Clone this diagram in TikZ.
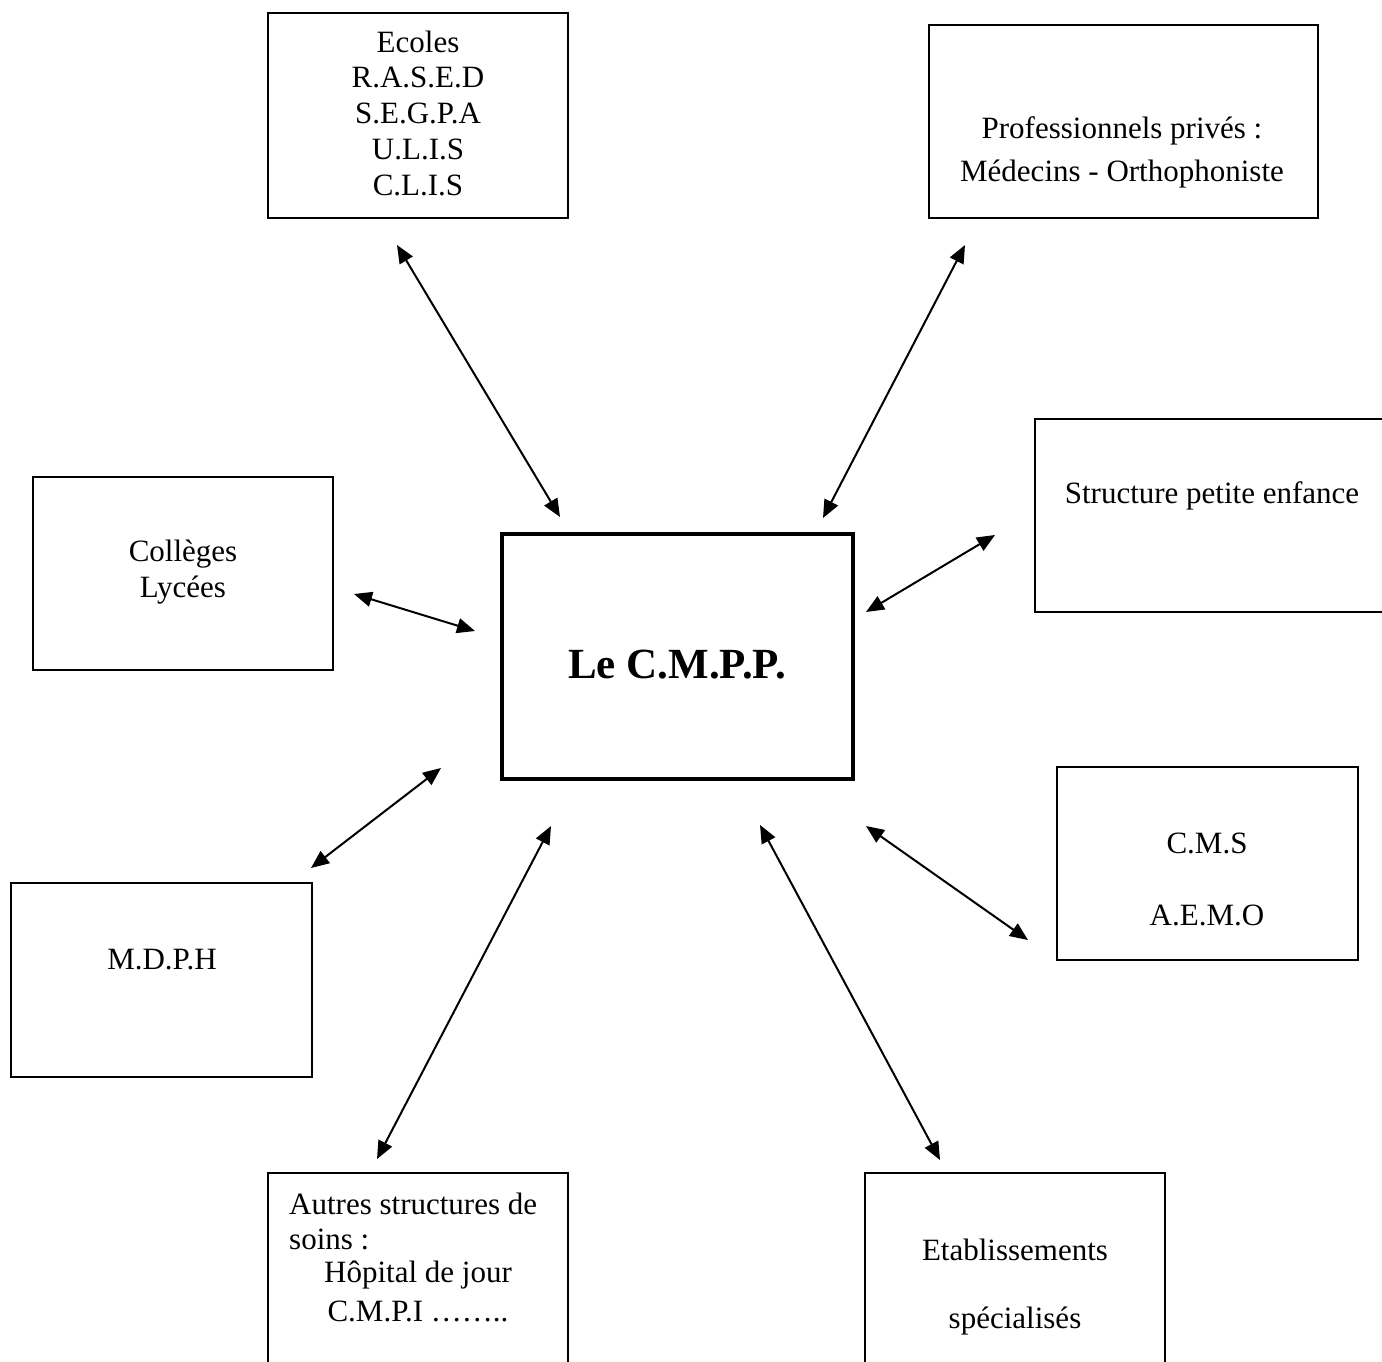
\documentclass[tikz,border=0pt]{standalone}
\usepackage{fontspec}
\setmainfont{Liberation Serif}
\usetikzlibrary{arrows.meta}
\begin{document}
\begin{tikzpicture}[x=1pt,y=-1pt,
  box/.style={draw, line width=2pt, anchor=north west, inner sep=0pt, outer sep=0pt},
  centre/.style={draw, line width=4pt, anchor=north west, inner sep=0pt, outer sep=0pt},
  lbl/.style={inner sep=0pt, font=\fontsize{31}{36}\selectfont},
  link/.style={line width=2pt, {Triangle[length=18pt,width=15pt]}-{Triangle[length=18pt,width=15pt]}}]
\clip (0,0) rectangle (1382,1362);
\fill[white] (0,0) rectangle (1382,1362);

% boxes
\node[box, minimum width=300pt, minimum height=205pt] (ecoles) at (268,13) {};
\node[box, minimum width=389pt, minimum height=193pt] (prof) at (929,25) {};
\node[box, minimum width=400pt, minimum height=193pt] (petite) at (1035,419) {};
\node[box, minimum width=300pt, minimum height=193pt] (colleges) at (33,477) {};
\node[centre, minimum width=351pt, minimum height=245pt] (cmpp) at (502,534) {};
\node[box, minimum width=301pt, minimum height=193pt] (cms) at (1057,767) {};
\node[box, minimum width=301pt, minimum height=194pt] (mdph) at (11,883) {};
\node[box, minimum width=300pt, minimum height=250pt] (autres) at (268,1173) {};
\node[box, minimum width=300pt, minimum height=250pt] (etab) at (865,1173) {};

% labels
\node[lbl] (t-ec1) at (418,42) {Ecoles};
\node[lbl] (t-ec2) at (418,77) {R.A.S.E.D};
\node[lbl] (t-ec3) at (418,113) {S.E.G.P.A};
\node[lbl] (t-ec4) at (418,149) {U.L.I.S};
\node[lbl] (t-ec5) at (418,185) {C.L.I.S};
\node[lbl] (t-pr1) at (1122,131) {Professionnels privés :};
\node[lbl] (t-pr2) at (1122,174) {Médecins - Orthophoniste};
\node[lbl] (t-pe) at (1212,496) {Structure petite enfance};
\node[lbl] (t-co1) at (183,554) {Collèges};
\node[lbl] (t-co2) at (183,590) {Lycées};
\node[inner sep=0pt, font=\fontsize{43}{48}\selectfont\bfseries] (t-cmpp) at (677,665) {Le C.M.P.P.};
\node[lbl] (t-cms1) at (1207,843) {C.M.S};
\node[lbl] (t-cms2) at (1207,915) {A.E.M.O};
\node[lbl] (t-md) at (162,960) {M.D.P.H};
\node[lbl, anchor=west] (t-au1) at (289,1204) {Autres structures de};
\node[lbl, anchor=west] (t-au2) at (289,1239) {soins :};
\node[lbl] (t-au3) at (418,1275) {Hôpital de jour};
\node[lbl] (t-au4) at (418,1311) {C.M.P.I ……..};
\node[lbl] (t-et1) at (1015,1250) {Etablissements};
\node[lbl] (t-et2) at (1015,1321) {spécialisés};

% connector ends
\coordinate (a1) at (397,245);  \coordinate (b1) at (560,517);
\coordinate (a2) at (965,245);  \coordinate (b2) at (823,518);
\coordinate (a3) at (995,535);  \coordinate (b3) at (866,612);
\coordinate (a4) at (354,594);  \coordinate (b4) at (475,631);
\coordinate (a5) at (441,768);  \coordinate (b5) at (311,868);
\coordinate (a6) at (551,826);  \coordinate (b6) at (377,1159);
\coordinate (a7) at (760,825);  \coordinate (b7) at (940,1160);
\coordinate (a8) at (866,826);  \coordinate (b8) at (1028,940);

% two-way links
\foreach \i in {1,...,8} \draw[link] (a\i) -- (b\i);
\end{tikzpicture}
\end{document}
